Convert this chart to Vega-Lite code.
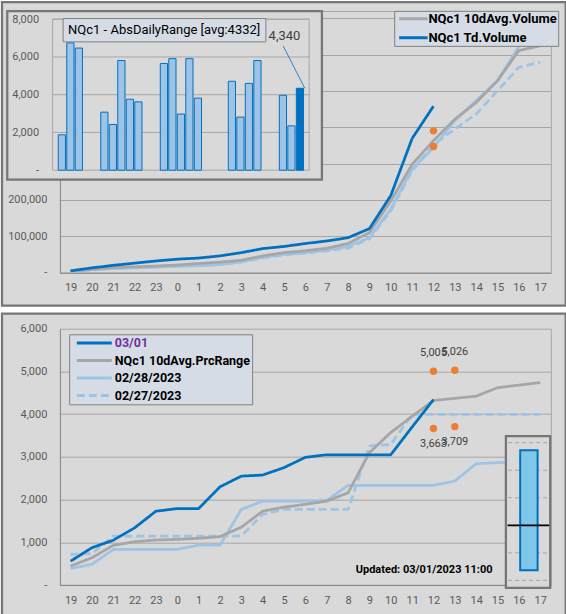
{
  "$schema": "https://vega.github.io/schema/vega-lite/v6.json",
  "background": "white",
  "padding": 0,
  "spacing": 4.7,
  "resolve": {"scale": {"color": "independent", "strokeDash": "independent"}, "legend": {"color": "independent", "strokeDash": "independent"}},
  "config": {
    "font": "Roboto",
    "view": {"fill": "#D9D9D9", "stroke": "#767676", "strokeWidth": 2.25},
    "axis": {
      "labelFont": "Roboto",
      "labelFontSize": 11,
      "labelColor": "#595959",
      "ticks": false,
      "title": null,
      "domainColor": "#868686",
      "gridColor": "#A6A6A6"
    }
  },
  "datasets": {
    "volume": [
      {"hour": "19", "series": "02/27/2023", "volume": 3000},
      {"hour": "20", "series": "02/27/2023", "volume": 8000},
      {"hour": "21", "series": "02/27/2023", "volume": 12000},
      {"hour": "22", "series": "02/27/2023", "volume": 14000},
      {"hour": "23", "series": "02/27/2023", "volume": 16000},
      {"hour": "0", "series": "02/27/2023", "volume": 18000},
      {"hour": "1", "series": "02/27/2023", "volume": 20000},
      {"hour": "2", "series": "02/27/2023", "volume": 23000},
      {"hour": "3", "series": "02/27/2023", "volume": 29000},
      {"hour": "4", "series": "02/27/2023", "volume": 40000},
      {"hour": "5", "series": "02/27/2023", "volume": 49000},
      {"hour": "6", "series": "02/27/2023", "volume": 54000},
      {"hour": "7", "series": "02/27/2023", "volume": 60000},
      {"hour": "8", "series": "02/27/2023", "volume": 68000},
      {"hour": "9", "series": "02/27/2023", "volume": 93000},
      {"hour": "10", "series": "02/27/2023", "volume": 170000},
      {"hour": "11", "series": "02/27/2023", "volume": 280000},
      {"hour": "12", "series": "02/27/2023", "volume": 352000},
      {"hour": "13", "series": "02/27/2023", "volume": 395000},
      {"hour": "14", "series": "02/27/2023", "volume": 436000},
      {"hour": "15", "series": "02/27/2023", "volume": 500000},
      {"hour": "16", "series": "02/27/2023", "volume": 565000},
      {"hour": "17", "series": "02/27/2023", "volume": 579000},
      {"hour": "19", "series": "02/28/2023", "volume": 3000},
      {"hour": "20", "series": "02/28/2023", "volume": 8000},
      {"hour": "21", "series": "02/28/2023", "volume": 11000},
      {"hour": "22", "series": "02/28/2023", "volume": 13000},
      {"hour": "23", "series": "02/28/2023", "volume": 15000},
      {"hour": "0", "series": "02/28/2023", "volume": 17000},
      {"hour": "1", "series": "02/28/2023", "volume": 19000},
      {"hour": "2", "series": "02/28/2023", "volume": 22000},
      {"hour": "3", "series": "02/28/2023", "volume": 30000},
      {"hour": "4", "series": "02/28/2023", "volume": 42000},
      {"hour": "5", "series": "02/28/2023", "volume": 50000},
      {"hour": "6", "series": "02/28/2023", "volume": 55000},
      {"hour": "7", "series": "02/28/2023", "volume": 62000},
      {"hour": "8", "series": "02/28/2023", "volume": 72000},
      {"hour": "9", "series": "02/28/2023", "volume": 96000},
      {"hour": "10", "series": "02/28/2023", "volume": 175000},
      {"hour": "11", "series": "02/28/2023", "volume": 285000},
      {"hour": "12", "series": "02/28/2023", "volume": 344000},
      {"hour": "13", "series": "02/28/2023", "volume": 418000},
      {"hour": "14", "series": "02/28/2023", "volume": 473000},
      {"hour": "15", "series": "02/28/2023", "volume": 528000},
      {"hour": "16", "series": "02/28/2023", "volume": 622000},
      {"hour": "17", "series": "02/28/2023", "volume": 670000},
      {"hour": "19", "series": "NQc1 10dAvg.Volume", "volume": 4000},
      {"hour": "20", "series": "NQc1 10dAvg.Volume", "volume": 9000},
      {"hour": "21", "series": "NQc1 10dAvg.Volume", "volume": 14000},
      {"hour": "22", "series": "NQc1 10dAvg.Volume", "volume": 16000},
      {"hour": "23", "series": "NQc1 10dAvg.Volume", "volume": 18000},
      {"hour": "0", "series": "NQc1 10dAvg.Volume", "volume": 21000},
      {"hour": "1", "series": "NQc1 10dAvg.Volume", "volume": 25000},
      {"hour": "2", "series": "NQc1 10dAvg.Volume", "volume": 29000},
      {"hour": "3", "series": "NQc1 10dAvg.Volume", "volume": 34000},
      {"hour": "4", "series": "NQc1 10dAvg.Volume", "volume": 46000},
      {"hour": "5", "series": "NQc1 10dAvg.Volume", "volume": 55000},
      {"hour": "6", "series": "NQc1 10dAvg.Volume", "volume": 60000},
      {"hour": "7", "series": "NQc1 10dAvg.Volume", "volume": 67000},
      {"hour": "8", "series": "NQc1 10dAvg.Volume", "volume": 80000},
      {"hour": "9", "series": "NQc1 10dAvg.Volume", "volume": 110000},
      {"hour": "10", "series": "NQc1 10dAvg.Volume", "volume": 197000},
      {"hour": "11", "series": "NQc1 10dAvg.Volume", "volume": 298000},
      {"hour": "12", "series": "NQc1 10dAvg.Volume", "volume": 363000},
      {"hour": "13", "series": "NQc1 10dAvg.Volume", "volume": 422000},
      {"hour": "14", "series": "NQc1 10dAvg.Volume", "volume": 468000},
      {"hour": "15", "series": "NQc1 10dAvg.Volume", "volume": 528000},
      {"hour": "16", "series": "NQc1 10dAvg.Volume", "volume": 611000},
      {"hour": "17", "series": "NQc1 10dAvg.Volume", "volume": 624000},
      {"hour": "19", "series": "NQc1 Td.Volume", "volume": 5000},
      {"hour": "20", "series": "NQc1 Td.Volume", "volume": 13000},
      {"hour": "21", "series": "NQc1 Td.Volume", "volume": 20000},
      {"hour": "22", "series": "NQc1 Td.Volume", "volume": 26000},
      {"hour": "23", "series": "NQc1 Td.Volume", "volume": 32000},
      {"hour": "0", "series": "NQc1 Td.Volume", "volume": 37000},
      {"hour": "1", "series": "NQc1 Td.Volume", "volume": 40000},
      {"hour": "2", "series": "NQc1 Td.Volume", "volume": 46000},
      {"hour": "3", "series": "NQc1 Td.Volume", "volume": 55000},
      {"hour": "4", "series": "NQc1 Td.Volume", "volume": 66000},
      {"hour": "5", "series": "NQc1 Td.Volume", "volume": 72000},
      {"hour": "6", "series": "NQc1 Td.Volume", "volume": 80000},
      {"hour": "7", "series": "NQc1 Td.Volume", "volume": 87000},
      {"hour": "8", "series": "NQc1 Td.Volume", "volume": 96000},
      {"hour": "9", "series": "NQc1 Td.Volume", "volume": 121000},
      {"hour": "10", "series": "NQc1 Td.Volume", "volume": 212000},
      {"hour": "11", "series": "NQc1 Td.Volume", "volume": 369000},
      {"hour": "12", "series": "NQc1 Td.Volume", "volume": 458000}
    ],
    "volumeDots": [
      {"hour": "12", "volume": 390000},
      {"hour": "12", "volume": 347000}
    ],
    "dailyRange": [
      {"date": "2023-02-01", "range": 1875, "today": false},
      {"date": "2023-02-02", "range": 6745, "today": false},
      {"date": "2023-02-03", "range": 6470, "today": false},
      {"date": "2023-02-06", "range": 3075, "today": false},
      {"date": "2023-02-07", "range": 2420, "today": false},
      {"date": "2023-02-08", "range": 5810, "today": false},
      {"date": "2023-02-09", "range": 3760, "today": false},
      {"date": "2023-02-10", "range": 3620, "today": false},
      {"date": "2023-02-13", "range": 5655, "today": false},
      {"date": "2023-02-14", "range": 5910, "today": false},
      {"date": "2023-02-15", "range": 2975, "today": false},
      {"date": "2023-02-16", "range": 5910, "today": false},
      {"date": "2023-02-17", "range": 3820, "today": false},
      {"date": "2023-02-21", "range": 4710, "today": false},
      {"date": "2023-02-22", "range": 2815, "today": false},
      {"date": "2023-02-23", "range": 4600, "today": false},
      {"date": "2023-02-24", "range": 5810, "today": false},
      {"date": "2023-02-27", "range": 3970, "today": false},
      {"date": "2023-02-28", "range": 2350, "today": false},
      {"date": "2023-03-01", "range": 4340, "today": true}
    ],
    "rangeTicks": [{"tick": 2000}, {"tick": 4000}, {"tick": 6000}, {"tick": 8000}],
    "prcRange": [
      {"hour": "19", "series": "02/27/2023", "range": 720},
      {"hour": "20", "series": "02/27/2023", "range": 735},
      {"hour": "21", "series": "02/27/2023", "range": 1145},
      {"hour": "22", "series": "02/27/2023", "range": 1145},
      {"hour": "23", "series": "02/27/2023", "range": 1145},
      {"hour": "0", "series": "02/27/2023", "range": 1145},
      {"hour": "1", "series": "02/27/2023", "range": 1145},
      {"hour": "2", "series": "02/27/2023", "range": 1145},
      {"hour": "3", "series": "02/27/2023", "range": 1150},
      {"hour": "4", "series": "02/27/2023", "range": 1655},
      {"hour": "5", "series": "02/27/2023", "range": 1770},
      {"hour": "6", "series": "02/27/2023", "range": 1770},
      {"hour": "7", "series": "02/27/2023", "range": 1770},
      {"hour": "8", "series": "02/27/2023", "range": 1770},
      {"hour": "9", "series": "02/27/2023", "range": 3255},
      {"hour": "10", "series": "02/27/2023", "range": 3290},
      {"hour": "11", "series": "02/27/2023", "range": 3995},
      {"hour": "12", "series": "02/27/2023", "range": 3995},
      {"hour": "13", "series": "02/27/2023", "range": 3995},
      {"hour": "14", "series": "02/27/2023", "range": 3995},
      {"hour": "15", "series": "02/27/2023", "range": 3995},
      {"hour": "16", "series": "02/27/2023", "range": 3995},
      {"hour": "17", "series": "02/27/2023", "range": 3995},
      {"hour": "19", "series": "02/28/2023", "range": 390},
      {"hour": "20", "series": "02/28/2023", "range": 485},
      {"hour": "21", "series": "02/28/2023", "range": 835},
      {"hour": "22", "series": "02/28/2023", "range": 835},
      {"hour": "23", "series": "02/28/2023", "range": 835},
      {"hour": "0", "series": "02/28/2023", "range": 835},
      {"hour": "1", "series": "02/28/2023", "range": 935},
      {"hour": "2", "series": "02/28/2023", "range": 935},
      {"hour": "3", "series": "02/28/2023", "range": 1770},
      {"hour": "4", "series": "02/28/2023", "range": 1965},
      {"hour": "5", "series": "02/28/2023", "range": 1965},
      {"hour": "6", "series": "02/28/2023", "range": 1965},
      {"hour": "7", "series": "02/28/2023", "range": 1980},
      {"hour": "8", "series": "02/28/2023", "range": 2335},
      {"hour": "9", "series": "02/28/2023", "range": 2335},
      {"hour": "10", "series": "02/28/2023", "range": 2335},
      {"hour": "11", "series": "02/28/2023", "range": 2335},
      {"hour": "12", "series": "02/28/2023", "range": 2335},
      {"hour": "13", "series": "02/28/2023", "range": 2435},
      {"hour": "14", "series": "02/28/2023", "range": 2840},
      {"hour": "15", "series": "02/28/2023", "range": 2865},
      {"hour": "16", "series": "02/28/2023", "range": 2880},
      {"hour": "17", "series": "02/28/2023", "range": 2900},
      {"hour": "19", "series": "NQc1 10dAvg.PrcRange", "range": 445},
      {"hour": "20", "series": "NQc1 10dAvg.PrcRange", "range": 640},
      {"hour": "21", "series": "NQc1 10dAvg.PrcRange", "range": 930},
      {"hour": "22", "series": "NQc1 10dAvg.PrcRange", "range": 1015},
      {"hour": "23", "series": "NQc1 10dAvg.PrcRange", "range": 1055},
      {"hour": "0", "series": "NQc1 10dAvg.PrcRange", "range": 1070},
      {"hour": "1", "series": "NQc1 10dAvg.PrcRange", "range": 1095},
      {"hour": "2", "series": "NQc1 10dAvg.PrcRange", "range": 1135},
      {"hour": "3", "series": "NQc1 10dAvg.PrcRange", "range": 1355},
      {"hour": "4", "series": "NQc1 10dAvg.PrcRange", "range": 1730},
      {"hour": "5", "series": "NQc1 10dAvg.PrcRange", "range": 1825},
      {"hour": "6", "series": "NQc1 10dAvg.PrcRange", "range": 1890},
      {"hour": "7", "series": "NQc1 10dAvg.PrcRange", "range": 1965},
      {"hour": "8", "series": "NQc1 10dAvg.PrcRange", "range": 2160},
      {"hour": "9", "series": "NQc1 10dAvg.PrcRange", "range": 3100},
      {"hour": "10", "series": "NQc1 10dAvg.PrcRange", "range": 3570},
      {"hour": "11", "series": "NQc1 10dAvg.PrcRange", "range": 3950},
      {"hour": "12", "series": "NQc1 10dAvg.PrcRange", "range": 4320},
      {"hour": "13", "series": "NQc1 10dAvg.PrcRange", "range": 4370},
      {"hour": "14", "series": "NQc1 10dAvg.PrcRange", "range": 4420},
      {"hour": "15", "series": "NQc1 10dAvg.PrcRange", "range": 4620},
      {"hour": "16", "series": "NQc1 10dAvg.PrcRange", "range": 4680},
      {"hour": "17", "series": "NQc1 10dAvg.PrcRange", "range": 4740},
      {"hour": "19", "series": "03/01", "range": 560},
      {"hour": "20", "series": "03/01", "range": 875},
      {"hour": "21", "series": "03/01", "range": 1050},
      {"hour": "22", "series": "03/01", "range": 1340},
      {"hour": "23", "series": "03/01", "range": 1730},
      {"hour": "0", "series": "03/01", "range": 1790},
      {"hour": "1", "series": "03/01", "range": 1790},
      {"hour": "2", "series": "03/01", "range": 2300},
      {"hour": "3", "series": "03/01", "range": 2550},
      {"hour": "4", "series": "03/01", "range": 2575},
      {"hour": "5", "series": "03/01", "range": 2750},
      {"hour": "6", "series": "03/01", "range": 2990},
      {"hour": "7", "series": "03/01", "range": 3050},
      {"hour": "8", "series": "03/01", "range": 3050},
      {"hour": "9", "series": "03/01", "range": 3050},
      {"hour": "10", "series": "03/01", "range": 3050},
      {"hour": "11", "series": "03/01", "range": 3700},
      {"hour": "12", "series": "03/01", "range": 4340}
    ],
    "prcDots": [
      {"hour": "12", "range": 5005, "side": "up"},
      {"hour": "13", "range": 5026, "side": "up"},
      {"hour": "12", "range": 3663, "side": "down"},
      {"hour": "13", "range": 3709, "side": "down"}
    ],
    "gauge": [{"lo": 7.3, "hi": 94.6, "now": 40}],
    "gaugeTicks": [{"tick": 0}, {"tick": 20}, {"tick": 40}, {"tick": 60}, {"tick": 80}, {"tick": 100}],
    "note": [{"text": "Updated: 03/01/2023 11:00"}]
  },
  "vconcat": [
    {
      "width": 563.7,
      "height": 303.5,
      "resolve": {"scale": {"x": "independent", "y": "independent"}},
      "layer": [
        {
          "data": {"name": "volume"},
          "mark": {"type": "line", "strokeWidth": 2.75, "strokeJoin": "round"},
          "encoding": {
            "x": {
              "field": "hour", "type": "ordinal",
              "scale": {"type": "point", "domain": ["19","20","21","22","23","0","1","2","3","4","5","6","7","8","9","10","11","12","13","14","15","16","17"], "range": [57.9, 548.9], "padding": 0.5},
              "axis": {"orient": "bottom", "offset": -32.95, "labelPadding": 9, "labelAngle": 0, "grid": false}
            },
            "y": {
              "field": "volume", "type": "quantitative",
              "scale": {"domain": [0, 720000], "range": [270.6, 8.9], "nice": false},
              "axis": {
                "orient": "left", "offset": -57.9, "grid": true, "labelPadding": 13,
                "values": [0, 100000, 200000, 300000, 400000, 500000, 600000, 700000, 720000],
                "labelExpr": "datum.value >= 300000 ? '' : datum.value == 0 ? '-  ' : format(datum.value, ',')"
              }
            },
            "color": {
              "field": "series", "type": "nominal",
              "scale": {"domain": ["NQc1 10dAvg.Volume", "NQc1 Td.Volume", "02/28/2023", "02/27/2023"], "range": ["#A6A6A6", "#0070C0", "#9DC3E6", "#9DC3E6"]},
              "legend": {
                "title": null, "orient": "none", "legendX": 392.2, "legendY": 8.85,
                "values": ["NQc1 10dAvg.Volume", "NQc1 Td.Volume"],
                "symbolType": "stroke", "symbolSize": 810, "symbolStrokeWidth": 3,
                "labelFont": "Roboto", "labelFontWeight": "bold", "labelFontSize": 13, "labelColor": "#000000",
                "padding": 1, "rowPadding": 5, "clipHeight": 14, "labelOffset": -1, "symbolOffset": 2.2,
                "fillColor": "#D6DCE5", "strokeColor": "#7F7F7F"
              }
            },
            "strokeDash": {
              "field": "series", "type": "nominal",
              "scale": {"domain": ["NQc1 10dAvg.Volume", "NQc1 Td.Volume", "02/28/2023", "02/27/2023"], "range": [[1, 0], [1, 0], [1, 0], [8, 4]]}
            }
          }
        },
        {
          "data": {"name": "volumeDots"},
          "mark": {"type": "circle", "size": 55, "color": "#ED7D31", "opacity": 1},
          "encoding": {
            "x": {
              "field": "hour", "type": "ordinal",
              "scale": {"type": "point", "domain": ["19","20","21","22","23","0","1","2","3","4","5","6","7","8","9","10","11","12","13","14","15","16","17"], "range": [57.9, 548.9], "padding": 0.5},
              "axis": null
            },
            "y": {
              "field": "volume", "type": "quantitative",
              "scale": {"domain": [0, 720000], "range": [270.6, 8.9], "nice": false},
              "axis": {"orient": "right", "offset": -14.85, "labels": false, "grid": false, "domain": true, "domainColor": "#A6A6A6"}
            }
          }
        },
        {
          "data": {"values": [{}]},
          "mark": {"type": "rect", "fill": "#D9D9D9", "stroke": "#767676", "strokeWidth": 2.25},
          "encoding": {
            "x": {
              "datum": {"year": 2023, "month": 1, "date": 26, "hours": 9, "utc": true}, "type": "temporal",
              "scale": {"type": "utc", "domain": [{"year": 2023, "month": 1, "date": 31, "hours": 12, "utc": true}, {"year": 2023, "month": 3, "date": 1, "hours": 12, "utc": true}], "range": [50.6, 307.2]},
              "axis": null
            },
            "x2": {"datum": {"year": 2023, "month": 3, "date": 2, "hours": 22, "minutes": 30, "utc": true}},
            "y": {"datum": 8430, "type": "quantitative", "scale": {"domain": [0, 8000], "range": [168.2, 17.2], "nice": false}, "axis": null},
            "y2": {"datum": -500}
          }
        },
        {
          "data": {"name": "rangeTicks"},
          "mark": {"type": "rule", "color": "#A6A6A6", "strokeWidth": 1},
          "encoding": {
            "x": {
              "datum": {"year": 2023, "month": 1, "date": 31, "hours": 12, "utc": true}, "type": "temporal",
              "scale": {"type": "utc", "domain": [{"year": 2023, "month": 1, "date": 31, "hours": 12, "utc": true}, {"year": 2023, "month": 3, "date": 1, "hours": 12, "utc": true}], "range": [50.6, 307.2]},
              "axis": null
            },
            "x2": {"datum": {"year": 2023, "month": 3, "date": 1, "hours": 12, "utc": true}},
            "y": {"field": "tick", "type": "quantitative", "scale": {"domain": [0, 8000], "range": [168.2, 17.2], "nice": false}, "axis": null}
          }
        },
        {
          "data": {"values": [{}]},
          "mark": {"type": "rect", "filled": false, "stroke": "#A6A6A6", "strokeWidth": 1},
          "encoding": {
            "x": {
              "datum": {"year": 2023, "month": 1, "date": 31, "hours": 12, "utc": true}, "type": "temporal",
              "scale": {"type": "utc", "domain": [{"year": 2023, "month": 1, "date": 31, "hours": 12, "utc": true}, {"year": 2023, "month": 3, "date": 1, "hours": 12, "utc": true}], "range": [50.6, 307.2]},
              "axis": null
            },
            "x2": {"datum": {"year": 2023, "month": 3, "date": 1, "hours": 12, "utc": true}},
            "y": {"datum": 0, "type": "quantitative", "scale": {"domain": [0, 8000], "range": [168.2, 17.2], "nice": false}, "axis": null},
            "y2": {"datum": 8000}
          }
        },
        {
          "data": {"name": "dailyRange"},
          "mark": {"type": "bar", "width": 7.2, "stroke": "#0070C0", "strokeWidth": 1},
          "encoding": {
            "x": {
              "field": "date", "type": "temporal",
              "scale": {"type": "utc", "domain": [{"year": 2023, "month": 1, "date": 31, "hours": 12, "utc": true}, {"year": 2023, "month": 3, "date": 1, "hours": 12, "utc": true}], "range": [50.6, 307.2]},
              "axis": null
            },
            "y": {
              "field": "range", "type": "quantitative",
              "scale": {"domain": [0, 8000], "range": [168.2, 17.2], "nice": false},
              "axis": {
                "orient": "left", "offset": -50.6, "zindex": 1, "grid": false, "domain": false, "labelPadding": 14,
                "values": [0, 2000, 4000, 6000, 8000],
                "labelExpr": "datum.value == 0 ? '-  ' : format(datum.value, ',')"
              }
            },
            "fill": {"condition": {"test": "datum.today", "value": "#0070C0"}, "value": "#9DC3E6"}
          }
        },
        {
          "data": {"name": "dailyRange"},
          "transform": [{"filter": "datum.today"}],
          "mark": {"type": "rule", "color": "#0070C0", "strokeWidth": 0.8, "x2Offset": -21.6, "y2Offset": -42.4},
          "encoding": {
            "x": {
              "field": "date", "type": "temporal",
              "scale": {"type": "utc", "domain": [{"year": 2023, "month": 1, "date": 31, "hours": 12, "utc": true}, {"year": 2023, "month": 3, "date": 1, "hours": 12, "utc": true}], "range": [50.6, 307.2]},
              "axis": null
            },
            "x2": {"field": "date"},
            "y": {"field": "range", "type": "quantitative", "scale": {"domain": [0, 8000], "range": [168.2, 17.2], "nice": false}, "axis": null},
            "y2": {"field": "range"}
          }
        },
        {
          "data": {"name": "dailyRange"},
          "transform": [{"filter": "datum.today"}],
          "mark": {"type": "text", "dx": -20.3, "dy": -52.4, "font": "Roboto", "fontSize": 13, "color": "#404040", "baseline": "middle"},
          "encoding": {
            "x": {
              "field": "date", "type": "temporal",
              "scale": {"type": "utc", "domain": [{"year": 2023, "month": 1, "date": 31, "hours": 12, "utc": true}, {"year": 2023, "month": 3, "date": 1, "hours": 12, "utc": true}], "range": [50.6, 307.2]},
              "axis": null
            },
            "y": {"field": "range", "type": "quantitative", "scale": {"domain": [0, 8000], "range": [168.2, 17.2], "nice": false}, "axis": null},
            "text": {"field": "range", "type": "quantitative", "format": ","}
          }
        },
        {
          "data": {"values": [{}]},
          "mark": {"type": "rect", "fill": "#D6DCE5", "stroke": "#7F7F7F", "strokeWidth": 1},
          "encoding": {
            "x": {
              "datum": {"year": 2023, "month": 2, "date": 1, "hours": 16, "minutes": 30, "utc": true}, "type": "temporal",
              "scale": {"type": "utc", "domain": [{"year": 2023, "month": 1, "date": 31, "hours": 12, "utc": true}, {"year": 2023, "month": 3, "date": 1, "hours": 12, "utc": true}], "range": [50.6, 307.2]},
              "axis": null
            },
            "x2": {"datum": {"year": 2023, "month": 2, "date": 24, "hours": 14, "minutes": 30, "utc": true}},
            "y": {"datum": 8034, "type": "quantitative", "scale": {"domain": [0, 8000], "range": [168.2, 17.2], "nice": false}, "axis": null},
            "y2": {"datum": 6800}
          }
        },
        {
          "data": {"values": [{"title": "NQc1 - AbsDailyRange [avg:4332]"}]},
          "mark": {"type": "text", "align": "left", "baseline": "middle", "dx": 5, "font": "Roboto", "fontSize": 13, "color": "#000000"},
          "encoding": {
            "x": {
              "datum": {"year": 2023, "month": 2, "date": 1, "hours": 16, "minutes": 30, "utc": true}, "type": "temporal",
              "scale": {"type": "utc", "domain": [{"year": 2023, "month": 1, "date": 31, "hours": 12, "utc": true}, {"year": 2023, "month": 3, "date": 1, "hours": 12, "utc": true}], "range": [50.6, 307.2]},
              "axis": null
            },
            "y": {"datum": 7420, "type": "quantitative", "scale": {"domain": [0, 8000], "range": [168.2, 17.2], "nice": false}, "axis": null},
            "text": {"field": "title", "type": "nominal"}
          }
        }
      ]
    },
    {
      "width": 563.7,
      "height": 303.5,
      "resolve": {"scale": {"x": "independent", "y": "independent"}},
      "layer": [
        {
          "data": {"name": "prcRange"},
          "mark": {"type": "line", "strokeWidth": 2.75, "strokeJoin": "round"},
          "encoding": {
            "x": {
              "field": "hour", "type": "ordinal",
              "scale": {"type": "point", "domain": ["19","20","21","22","23","0","1","2","3","4","5","6","7","8","9","10","11","12","13","14","15","16","17"], "range": [57.9, 548.9], "padding": 0.5},
              "axis": {"orient": "bottom", "offset": -32.15, "labelPadding": 9, "labelAngle": 0, "grid": false}
            },
            "y": {
              "field": "range", "type": "quantitative",
              "scale": {"domain": [0, 6000], "range": [271.4, 15.0], "nice": false},
              "axis": {
                "orient": "left", "offset": -57.9, "grid": true, "labelPadding": 13,
                "values": [0, 1000, 2000, 3000, 4000, 5000, 6000],
                "labelExpr": "datum.value == 0 ? '-  ' : format(datum.value, ',')"
              }
            },
            "color": {
              "field": "series", "type": "nominal",
              "scale": {"domain": ["03/01", "NQc1 10dAvg.PrcRange", "02/28/2023", "02/27/2023"], "range": ["#0070C0", "#A6A6A6", "#9DC3E6", "#9DC3E6"]},
              "legend": {
                "title": null, "orient": "none", "legendX": 67.15, "legendY": 20.6,
                "symbolType": "stroke", "symbolSize": 1225, "symbolStrokeWidth": 3,
                "labelFont": "Roboto", "labelFontWeight": "bold", "labelFontSize": 12.5, "labelColor": "#000000",
                "padding": 1.75, "rowPadding": 3.5, "clipHeight": 14, "labelOffset": 1.5, "symbolOffset": 4.4,
                "fillColor": "#D6DCE5", "strokeColor": "#7F7F7F",
                "encode": {"labels": {"update": {"fill": {"signal": "datum.label === '03/01' ? '#7030A0' : '#000000'"}}}}
              }
            },
            "strokeDash": {
              "field": "series", "type": "nominal",
              "scale": {"domain": ["03/01", "NQc1 10dAvg.PrcRange", "02/28/2023", "02/27/2023"], "range": [[1, 0], [1, 0], [1, 0], [8, 4]]}
            }
          }
        },
        {
          "data": {"name": "prcDots"},
          "mark": {"type": "circle", "size": 55, "color": "#ED7D31", "opacity": 1},
          "encoding": {
            "x": {
              "field": "hour", "type": "ordinal",
              "scale": {"type": "point", "domain": ["19","20","21","22","23","0","1","2","3","4","5","6","7","8","9","10","11","12","13","14","15","16","17"], "range": [57.9, 548.9], "padding": 0.5},
              "axis": null
            },
            "y": {
              "field": "range", "type": "quantitative",
              "scale": {"domain": [0, 6000], "range": [271.4, 15.0], "nice": false},
              "axis": {"orient": "right", "offset": -14.85, "labels": false, "grid": false, "domain": true, "domainColor": "#A6A6A6"}
            }
          }
        },
        {
          "data": {"name": "prcDots"},
          "transform": [{"filter": "datum.side == 'up'"}],
          "mark": {"type": "text", "dy": -18, "font": "Roboto", "fontSize": 11, "color": "#404040", "baseline": "middle"},
          "encoding": {
            "x": {
              "field": "hour", "type": "ordinal",
              "scale": {"type": "point", "domain": ["19","20","21","22","23","0","1","2","3","4","5","6","7","8","9","10","11","12","13","14","15","16","17"], "range": [57.9, 548.9], "padding": 0.5},
              "axis": null
            },
            "y": {"field": "range", "type": "quantitative", "scale": {"domain": [0, 6000], "range": [271.4, 15.0], "nice": false}, "axis": null},
            "text": {"field": "range", "type": "quantitative", "format": ","}
          }
        },
        {
          "data": {"name": "prcDots"},
          "transform": [{"filter": "datum.side == 'down'"}],
          "mark": {"type": "text", "dy": 15, "font": "Roboto", "fontSize": 11, "color": "#404040", "baseline": "middle"},
          "encoding": {
            "x": {
              "field": "hour", "type": "ordinal",
              "scale": {"type": "point", "domain": ["19","20","21","22","23","0","1","2","3","4","5","6","7","8","9","10","11","12","13","14","15","16","17"], "range": [57.9, 548.9], "padding": 0.5},
              "axis": null
            },
            "y": {"field": "range", "type": "quantitative", "scale": {"domain": [0, 6000], "range": [271.4, 15.0], "nice": false}, "axis": null},
            "text": {"field": "range", "type": "quantitative", "format": ","}
          }
        },
        {
          "data": {"name": "note"},
          "mark": {"type": "text", "align": "right", "baseline": "middle", "dx": -5, "font": "Roboto", "fontSize": 11, "fontWeight": "bold", "color": "#000000"},
          "encoding": {
            "x": {
              "datum": "15", "type": "ordinal",
              "scale": {"type": "point", "domain": ["19","20","21","22","23","0","1","2","3","4","5","6","7","8","9","10","11","12","13","14","15","16","17"], "range": [57.9, 548.9], "padding": 0.5},
              "axis": null
            },
            "y": {"datum": 344, "type": "quantitative", "scale": {"domain": [0, 6000], "range": [271.4, 15.0], "nice": false}, "axis": null},
            "text": {"field": "text", "type": "nominal"}
          }
        },
        {
          "data": {"values": [{}]},
          "mark": {"type": "rect", "fill": "#D9D9D9", "stroke": "#767676", "strokeWidth": 2.25},
          "encoding": {
            "x": {"datum": 0, "type": "quantitative", "scale": {"domain": [0, 1], "range": [503.9, 548.2], "nice": false, "zero": false}, "axis": null},
            "x2": {"datum": 1},
            "y": {"datum": -5.45, "type": "quantitative", "scale": {"domain": [0, 100], "range": [266.7, 129.0], "nice": false, "zero": false}, "axis": null},
            "y2": {"datum": 104.8}
          }
        },
        {
          "data": {"name": "gaugeTicks"},
          "mark": {"type": "rule", "color": "#A6A6A6", "strokeWidth": 1, "strokeDash": [4, 3]},
          "encoding": {
            "x": {"datum": 0.05, "type": "quantitative", "scale": {"domain": [0, 1], "range": [503.9, 548.2], "nice": false, "zero": false}, "axis": null},
            "x2": {"datum": 0.97},
            "y": {"field": "tick", "type": "quantitative", "scale": {"domain": [0, 100], "range": [266.7, 129.0], "nice": false, "zero": false}, "axis": null}
          }
        },
        {
          "data": {"name": "gauge"},
          "mark": {"type": "rect", "fill": "#7FC7E9", "stroke": "#0070C0", "strokeWidth": 2},
          "encoding": {
            "x": {"datum": 0.323, "type": "quantitative", "scale": {"domain": [0, 1], "range": [503.9, 548.2], "nice": false, "zero": false}, "axis": null},
            "x2": {"datum": 0.716},
            "y": {"field": "lo", "type": "quantitative", "scale": {"domain": [0, 100], "range": [266.7, 129.0], "nice": false, "zero": false}, "axis": null},
            "y2": {"field": "hi"}
          }
        },
        {
          "data": {"name": "gauge"},
          "mark": {"type": "rule", "color": "#000000", "strokeWidth": 1.8},
          "encoding": {
            "x": {"datum": 0.038, "type": "quantitative", "scale": {"domain": [0, 1], "range": [503.9, 548.2], "nice": false, "zero": false}, "axis": null},
            "x2": {"datum": 0.977},
            "y": {"field": "now", "type": "quantitative", "scale": {"domain": [0, 100], "range": [266.7, 129.0], "nice": false, "zero": false}, "axis": null}
          }
        }
      ]
    }
  ]
}
